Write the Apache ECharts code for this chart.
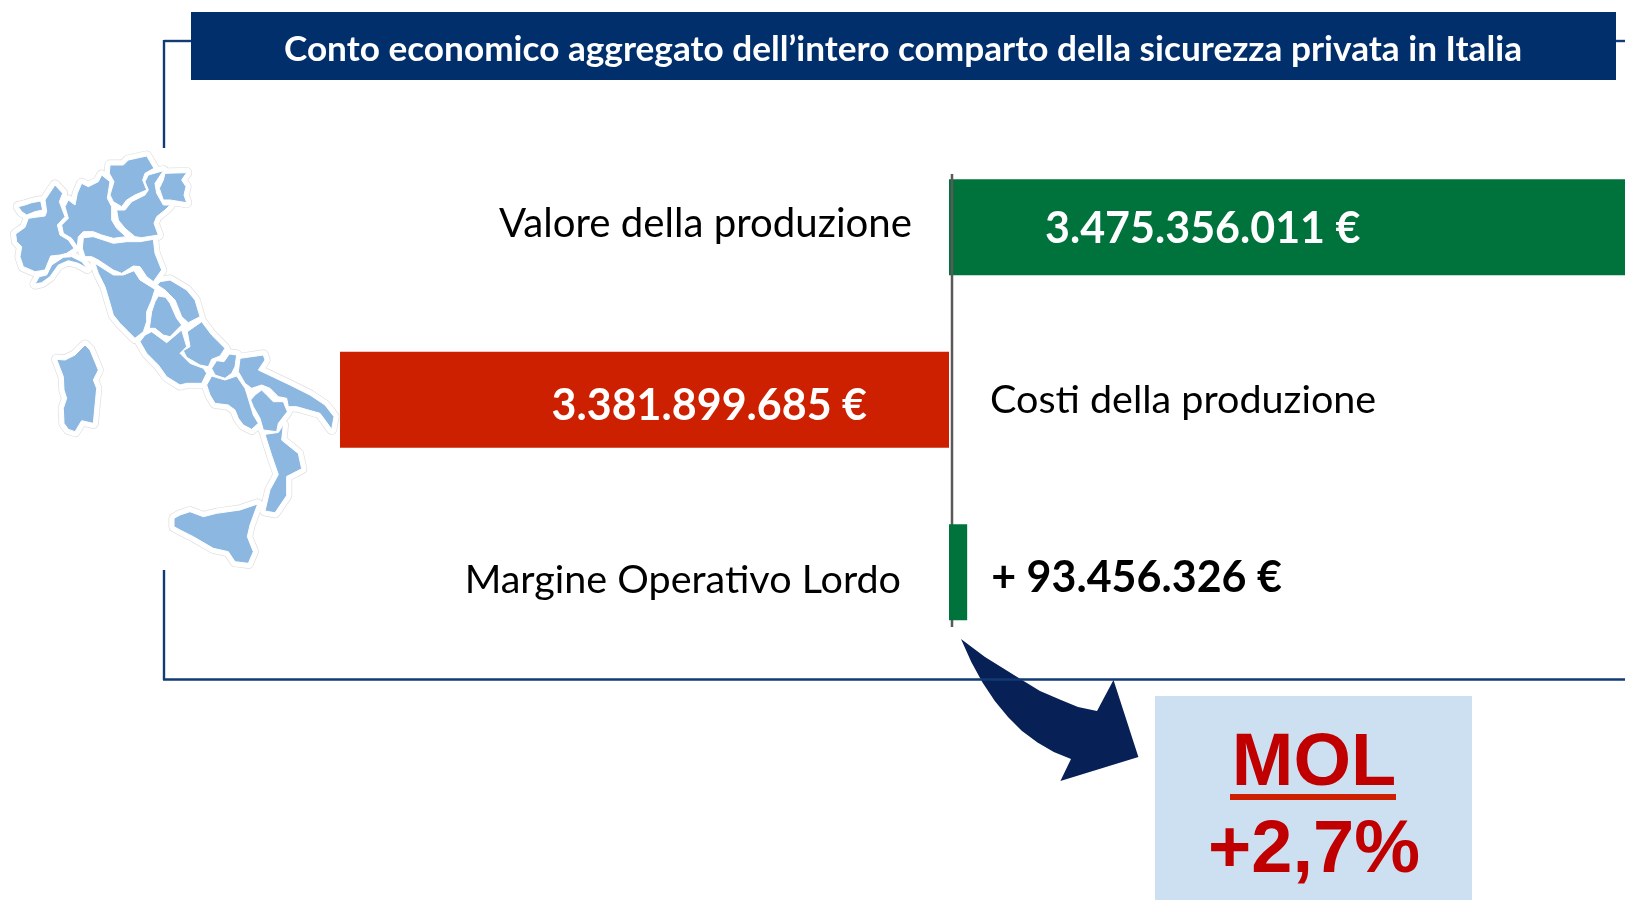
<!DOCTYPE html>
<html><head><meta charset="utf-8">
<style>html,body{margin:0;padding:0;background:#fff}#c{width:1625px;height:900px}</style>
<script src="https://cdn.jsdelivr.net/npm/echarts@6/dist/echarts.min.js"></script>
</head><body><div id="c"></div>
<script>
// ---- data
const categories = ['Valore della produzione', 'Costi della produzione', 'Margine Operativo Lordo'];
const valoreValues = [3475356011, null, null];
const costiValues = [null, 3381899685, null];
const molValues = [null, null, 93456326];
const titleText = 'Conto economico aggregato dell\u2019intero comparto della sicurezza privata in Italia';
const molHeading = 'MOL';
const molChange = '+2,7%';

// ---- decorative map of Italy (outline traces, in zoom-crop units)
const north = { ox: 0, oy: 140, k: 3, regions: [
 [[55,200],[75,195],[95,188],[122,183],[128,210],[105,215],[80,225],[65,215]],
 [[47,282],[75,262],[85,235],[105,232],[135,228],[140,215],[135,180],[165,135],[188,160],[178,185],[195,230],[172,255],[180,285],[205,300],[222,325],[200,340],[180,345],[152,348],[135,390],[105,395],[70,380],[60,350],[65,320],[50,305]],
 [[105,432],[118,410],[140,405],[155,375],[190,352],[215,350],[245,365],[262,385],[235,370],[205,362],[175,375],[150,410],[125,428]],
 [[205,180],[225,195],[232,160],[245,130],[265,140],[295,125],[305,105],[330,125],[322,175],[335,200],[335,240],[350,265],[378,290],[340,295],[305,285],[280,275],[250,275],[235,290],[232,320],[215,295],[190,280],[185,255],[205,235],[195,200]],
 [[330,75],[370,75],[385,60],[440,48],[462,85],[435,100],[428,120],[440,150],[405,165],[380,180],[365,200],[340,185],[330,165],[342,125],[328,100]],
 [[445,105],[490,92],[465,130],[470,160],[490,195],[510,195],[495,210],[470,230],[462,250],[475,285],[425,293],[405,290],[375,265],[355,240],[350,210],[375,210],[395,185],[435,165],[445,150],[435,125]],
 [[495,100],[560,98],[545,120],[558,140],[552,165],[560,188],[510,180],[490,180],[478,145],[490,120]],
 [[250,293],[280,290],[340,310],[380,305],[420,305],[460,298],[465,340],[485,390],[460,425],[440,410],[420,380],[400,378],[365,400],[340,390],[295,360],[275,350],[255,350],[247,325]],
 [[285,370],[340,405],[370,405],[402,392],[420,420],[465,448],[455,480],[440,515],[440,545],[430,575],[405,595],[385,575],[360,550],[340,525],[330,490],[315,440],[295,400]],
 [[480,425],[510,420],[560,450],[585,480],[600,530],[565,548],[545,530],[525,480],[495,450],[472,435]],
 [[475,468],[497,472],[510,490],[530,535],[545,555],[510,590],[490,585],[465,565],[448,565],[455,515],[465,485]]
]};
const south = { ox: 130, oy: 270, k: 3, regions: [
 [[45,195],[65,185],[110,218],[155,180],[170,230],[150,250],[180,280],[220,295],[230,310],[215,340],[170,340],[150,345],[110,320],[85,285],[50,250],[30,215]],
 [[215,155],[245,195],[285,235],[270,258],[245,268],[235,290],[210,285],[170,262],[160,242],[180,230],[172,185]],
 [[298,252],[320,255],[315,290],[305,310],[285,325],[255,315],[245,295],[260,272],[282,275]],
 [[230,345],[245,318],[285,330],[320,318],[345,355],[350,370],[370,435],[385,460],[365,478],[340,465],[325,445],[315,420],[295,405],[255,400],[240,375]],
 [[330,265],[400,255],[405,270],[385,300],[480,345],[540,375],[585,405],[612,440],[605,478],[585,450],[570,430],[500,410],[475,410],[470,385],[445,380],[420,355],[395,345],[365,355],[345,340],[325,305]],
 [[375,375],[395,360],[410,375],[430,395],[460,395],[472,425],[445,460],[440,485],[400,480],[390,445],[370,410],[362,390]]
]};
const calabria = { ox: 0, oy: 0, k: 3, ky: 2.613, regions: [
 [[795,1135],[835,1130],[850,1110],[845,1150],[895,1185],[905,1225],[860,1245],[860,1295],[825,1340],[795,1335],[810,1280],[835,1240],[815,1190]]
]};
const islands = { ox: 40, oy: 330, k: 3, regions: [
 [[50,88],[75,90],[105,75],[135,45],[150,60],[175,120],[160,150],[170,175],[160,280],[125,272],[105,305],[85,298],[72,280],[70,235],[80,205],[72,180],[70,140]],
 [[402,565],[420,555],[450,545],[490,560],[530,550],[600,540],[653,522],[630,585],[622,620],[640,665],[625,700],[585,695],[565,665],[520,655],[460,620],[420,600],[402,590]]
]};
const arrowOutline = [[961,639],[985,657],[1022,680],[1040,691],[1061,700],[1078,707],[1097,711],[1113.5,680],[1138.4,757],[1060.4,781],[1071,759],[1053.8,752],[1037.5,742.6],[1022,731],[1008,717],[994.8,701],[982.5,682.5],[971.3,662]];

// ---- helpers
const it = v => String(v).replace(/\B(?=(\d{3})+(?!\d))/g, '.');
const FONT = 'Lato';
const polys = [];
[north, south, calabria, islands].forEach(s => s.regions.forEach(r =>
  polys.push(r.map(p => [s.ox + p[0] / s.k, s.oy + p[1] / (s.ky || s.k)]))));
const mapLayer = (style, z) => polys.map(points => ({
  type: 'polygon', silent: true, z, shape: { points }, style
}));
const frame = (x1, y1, x2, y2) => ({
  type: 'line', silent: true, z: 5, shape: { x1, y1, x2, y2 },
  style: { stroke: '#123A75', lineWidth: 2.4 }
});
const label = (text, x, y, align, size) => ({
  type: 'text', silent: true, z: 6, x, y,
  style: { text, fill: '#000', font: '400 ' + size + 'px ' + FONT, textAlign: align, textVerticalAlign: 'middle' }
});

const chart = echarts.init(document.getElementById('c'), null, { renderer: 'canvas' });
chart.setOption({
  animation: false,
  backgroundColor: '#fff',
  title: {
    text: titleText, left: 898, top: 24, textAlign: 'center', z: 8,
    textStyle: { color: '#fff', fontFamily: FONT, fontWeight: 700, fontSize: 35.2, lineHeight: 42 }
  },
  grid: [
    { left: 949, width: 676, top: 141, height: 517.5 },
    { left: 340, width: 609, top: 141, height: 517.5 }
  ],
  xAxis: [
    { type: 'value', gridIndex: 0, min: 0, max: valoreValues[0], show: false },
    { type: 'value', gridIndex: 1, min: 0, max: costiValues[1], inverse: true, show: false }
  ],
  yAxis: [
    { type: 'category', gridIndex: 0, data: categories, inverse: true, show: false },
    { type: 'category', gridIndex: 1, data: categories, inverse: true, show: false }
  ],
  series: [
    { type: 'bar', name: categories[0], xAxisIndex: 0, yAxisIndex: 0, data: valoreValues, barWidth: 96, barGap: '-100%',
      itemStyle: { color: '#00723B' }, z: 2,
      label: { show: true, position: 'insideLeft', distance: 96, offset: [0, 2], color: '#fff', fontFamily: FONT, fontWeight: 700, fontSize: 43,
        formatter: p => it(p.value) + ' \u20AC' } },
    { type: 'bar', name: categories[1], xAxisIndex: 1, yAxisIndex: 1, data: costiValues, barWidth: 96,
      itemStyle: { color: '#CD2000' }, z: 2,
      label: { show: true, position: 'insideRight', distance: 82, offset: [0, 6], color: '#fff', fontFamily: FONT, fontWeight: 700, fontSize: 43,
        formatter: p => it(p.value) + ' \u20AC' } },
    { type: 'bar', name: categories[2], xAxisIndex: 0, yAxisIndex: 0, data: molValues, barWidth: 96, barGap: '-100%',
      itemStyle: { color: '#00723B' }, z: 4,
      label: { show: true, position: 'right', distance: 24, offset: [0, 6], color: '#000', fontFamily: FONT, fontWeight: 700, fontSize: 43,
        formatter: p => '+ ' + it(p.value) + ' \u20AC' } }
  ],
  graphic: { elements: [
    { type: 'rect', silent: true, z: 1, shape: { x: 191, y: 12, width: 1425, height: 68 }, style: { fill: '#002F6C' } },
    frame(164, 41, 191, 41), frame(164, 40, 164, 148), frame(164, 570, 164, 680), frame(163, 679.5, 1625, 679.5), frame(1616, 41, 1625, 41),
    { type: 'polygon', silent: true, z: 4, shape: { points: arrowOutline }, style: { fill: '#072055' } },
    { type: 'line', silent: true, z: 3, shape: { x1: 952, y1: 174, x2: 952, y2: 627 }, style: { stroke: '#595959', lineWidth: 2.5 } },
    ...mapLayer({ fill: '#fff', stroke: '#e0e0e0', lineWidth: 11, lineJoin: 'round' }, 1),
    ...mapLayer({ fill: '#fff', stroke: '#fff', lineWidth: 9.6, lineJoin: 'round' }, 2),
    ...mapLayer({ fill: '#8CB7E0', stroke: '#fff', lineWidth: 1, lineJoin: 'round' }, 3),
    label(categories[0], 912, 224, 'right', 40.2),
    label(categories[1], 990, 400, 'left', 39.5),
    label(categories[2], 901, 580, 'right', 39.5),
    { type: 'rect', silent: true, z: 1, shape: { x: 1155, y: 696, width: 317, height: 204 }, style: { fill: '#CCE0F1' } },
    { type: 'text', silent: true, z: 6, x: 1314, y: 802, style: { text: molHeading, fill: '#C00000', font: '700 74px "Liberation Sans"', textAlign: 'center', textVerticalAlign: 'bottom' } },
    { type: 'rect', silent: true, z: 6, shape: { x: 1230, y: 794, width: 166, height: 6 }, style: { fill: '#CC2000' } },
    { type: 'text', silent: true, z: 6, x: 1314, y: 889, style: { text: molChange, fill: '#C00000', font: '700 74px "Liberation Sans"', textAlign: 'center', textVerticalAlign: 'bottom' } }
  ] }
});
</script></body></html>
